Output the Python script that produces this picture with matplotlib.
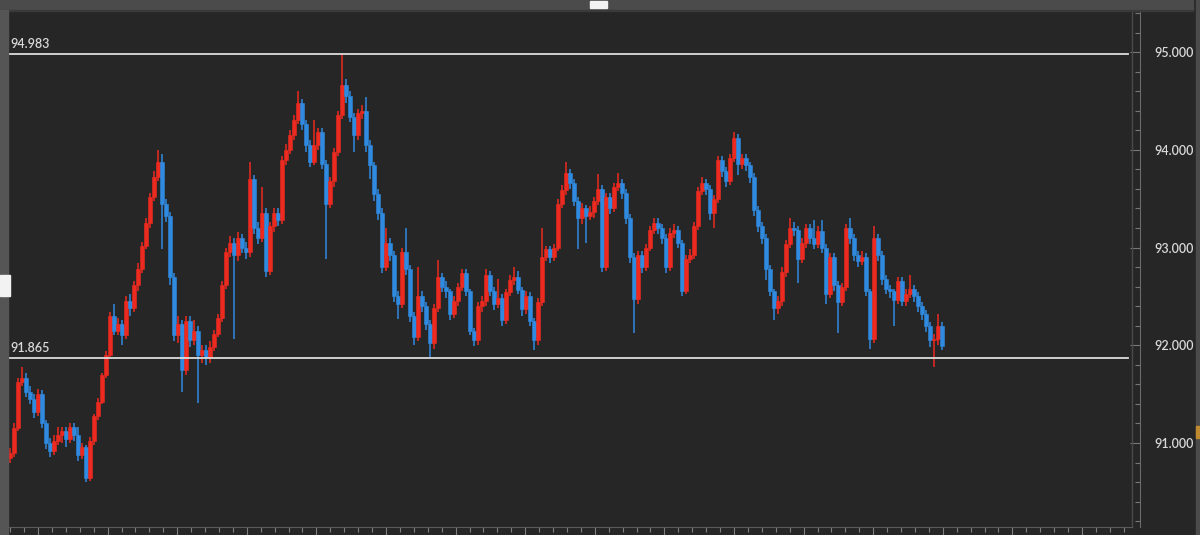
import numpy as np
import matplotlib
matplotlib.use("Agg")
import matplotlib.pyplot as plt
from matplotlib.patches import Rectangle
from matplotlib.lines import Line2D
from matplotlib.ticker import MultipleLocator, FormatStrFormatter

# precios de cierre, maximos y minimos de cada vela
first_open = 90.85
closes = [
    90.90, 91.15, 91.62, 91.66, 91.52, 91.45, 91.32, 91.50, 91.20, 91.00,
    90.92, 91.02, 91.08, 91.12, 91.04, 91.16, 91.08, 90.88, 90.96, 90.64,
    91.02, 91.28, 91.42, 91.70, 91.90, 92.30, 92.15, 92.22, 92.10, 92.45,
    92.38, 92.62, 92.78, 93.02, 93.25, 93.52, 93.72, 93.88, 93.45, 93.32,
    92.70, 92.10, 92.22, 91.75, 92.25, 92.05, 92.15, 91.90, 91.95, 91.88,
    91.98, 92.12, 92.28, 92.62, 92.95, 93.05, 92.92, 93.10, 93.00, 92.95,
    93.70, 93.20, 93.10, 93.35, 92.76, 93.22, 93.35, 93.28, 93.90, 94.00,
    94.15, 94.30, 94.48, 94.26, 94.05, 93.88, 94.05, 94.18, 93.85, 93.45,
    93.68, 93.98, 94.36, 94.66, 94.55, 94.34, 94.15, 94.38, 94.40, 94.05,
    93.84, 93.55, 93.35, 92.80, 93.05, 92.92, 92.50, 92.42, 92.95, 92.78,
    92.30, 92.08, 92.50, 92.40, 92.22, 92.02, 92.38, 92.70, 92.60, 92.55,
    92.32, 92.45, 92.60, 92.74, 92.55, 92.15, 92.05, 92.40, 92.45, 92.72,
    92.55, 92.42, 92.48, 92.26, 92.54, 92.67, 92.70, 92.57, 92.37, 92.50,
    92.25, 92.05, 92.44, 92.90, 92.98, 92.90, 93.00, 93.45, 93.59, 93.76,
    93.66, 93.48, 93.30, 93.40, 93.32, 93.36, 93.48, 93.60, 92.80, 93.52,
    93.40, 93.62, 93.66, 93.56, 93.30, 92.90, 92.47, 92.92, 92.80, 93.00,
    93.18, 93.25, 93.20, 93.10, 92.80, 93.15, 93.18, 93.05, 92.55, 92.88,
    92.92, 93.22, 93.58, 93.66, 93.60, 93.35, 93.50, 93.90, 93.78, 93.68,
    93.92, 94.12, 93.85, 93.92, 93.84, 93.72, 93.38, 93.22, 93.10, 92.78,
    92.55, 92.38, 92.45, 92.75, 93.04, 93.20, 93.18, 92.88, 93.05, 93.20,
    93.10, 93.04, 93.17, 93.00, 92.52, 92.90, 92.62, 92.44, 92.60, 93.20,
    93.10, 92.92, 92.86, 92.90, 92.55, 92.06, 93.10, 92.92, 92.68, 92.58,
    92.55, 92.46, 92.66, 92.45, 92.52, 92.58, 92.50, 92.40, 92.32, 92.20,
    92.05, 92.06, 92.20, 91.99,
]
highs = [
    90.95, 91.20, 91.66, 91.78, 91.72, 91.58, 91.50, 91.55, 91.54, 91.24,
    91.05, 91.08, 91.16, 91.16, 91.16, 91.20, 91.20, 91.16, 91.00, 90.98,
    91.06, 91.30, 91.46, 91.72, 91.94, 92.34, 92.42, 92.28, 92.26, 92.50,
    92.52, 92.66, 92.84, 93.06, 93.30, 93.56, 93.78, 94.00, 93.96, 93.50,
    93.36, 92.74, 92.30, 92.26, 92.30, 92.30, 92.26, 92.20, 92.00, 92.00,
    92.04, 92.16, 92.32, 92.66, 93.00, 93.12, 93.10, 93.16, 93.14, 93.06,
    93.87, 93.74, 93.26, 93.62, 93.40, 93.26, 93.40, 93.40, 93.94, 94.06,
    94.20, 94.36, 94.60, 94.52, 94.30, 94.10, 94.30, 94.22, 94.22, 93.90,
    93.72, 94.02, 94.40, 94.98, 94.72, 94.60, 94.38, 94.42, 94.46, 94.54,
    94.10, 93.88, 93.60, 93.40, 93.20, 93.10, 92.96, 92.56, 93.00, 93.20,
    92.82, 92.34, 92.80, 92.56, 92.44, 92.26, 92.42, 92.87, 92.74, 92.66,
    92.58, 92.50, 92.64, 92.78, 92.78, 92.58, 92.18, 92.44, 92.50, 92.78,
    92.76, 92.60, 92.68, 92.52, 92.58, 92.72, 92.80, 92.76, 92.60, 92.56,
    92.54, 92.28, 92.48, 93.20, 93.02, 93.02, 93.04, 93.50, 93.64, 93.88,
    93.80, 93.70, 93.52, 93.46, 93.44, 93.42, 93.52, 93.75, 93.64, 93.56,
    93.56, 93.66, 93.76, 93.70, 93.60, 93.34, 92.94, 92.96, 92.96, 93.04,
    93.22, 93.30, 93.30, 93.24, 93.14, 93.20, 93.24, 93.22, 93.08, 92.92,
    92.98, 93.26, 93.62, 93.72, 93.70, 93.64, 93.54, 93.94, 93.94, 93.82,
    93.96, 94.18, 94.16, 93.96, 93.96, 93.88, 93.76, 93.42, 93.26, 93.14,
    92.82, 92.58, 92.50, 92.80, 93.08, 93.30, 93.26, 93.22, 93.10, 93.24,
    93.24, 93.28, 93.22, 93.28, 93.04, 92.94, 92.94, 92.66, 92.64, 93.24,
    93.30, 93.14, 92.96, 92.96, 92.94, 92.58, 93.22, 93.14, 92.96, 92.72,
    92.62, 92.58, 92.70, 92.70, 92.58, 92.72, 92.62, 92.54, 92.44, 92.36,
    92.24, 92.12, 92.32, 92.24,
]
lows = [
    90.80, 90.86, 91.12, 91.58, 91.47, 91.40, 91.26, 91.28, 91.15, 90.94,
    90.86, 90.88, 90.98, 91.00, 90.96, 91.00, 91.02, 90.82, 90.84, 90.60,
    90.61, 90.98, 91.24, 91.40, 91.66, 91.88, 92.10, 92.10, 92.00, 92.06,
    92.30, 92.34, 92.56, 92.74, 92.98, 93.20, 93.48, 93.68, 92.98, 93.26,
    92.62, 92.04, 92.02, 91.52, 91.70, 91.98, 92.00, 91.41, 91.82, 91.80,
    91.82, 91.94, 92.08, 92.24, 92.58, 92.90, 92.06, 92.86, 92.94, 92.88,
    92.90, 93.14, 93.04, 93.06, 92.70, 92.72, 93.16, 93.22, 93.24, 93.84,
    93.96, 94.10, 94.26, 94.20, 93.98, 93.82, 93.84, 94.00, 93.80, 92.88,
    93.40, 93.62, 93.94, 94.32, 94.48, 94.28, 93.98, 94.10, 94.32, 93.98,
    93.70, 93.48, 93.28, 92.74, 92.76, 92.86, 92.44, 92.27, 92.38, 92.72,
    92.24, 92.00, 92.04, 92.34, 92.16, 91.88, 91.96, 92.34, 92.54, 92.48,
    92.26, 92.28, 92.40, 92.56, 92.50, 92.10, 91.99, 92.00, 92.34, 92.40,
    92.50, 92.36, 92.38, 92.20, 92.22, 92.50, 92.62, 92.52, 92.30, 92.32,
    92.20, 91.95, 92.00, 92.40, 92.86, 92.84, 92.86, 92.96, 93.40, 93.54,
    93.60, 93.42, 92.98, 93.24, 93.05, 93.28, 93.30, 93.44, 92.75, 92.76,
    93.34, 93.36, 93.58, 93.50, 93.24, 92.84, 92.13, 92.42, 92.74, 92.76,
    92.96, 93.14, 93.14, 93.04, 92.74, 92.76, 93.10, 93.00, 92.50, 92.52,
    92.84, 92.88, 93.18, 93.54, 93.54, 93.28, 93.20, 93.46, 93.72, 93.62,
    93.64, 93.88, 93.74, 93.80, 93.78, 93.66, 93.32, 93.16, 93.04, 92.67,
    92.50, 92.26, 92.32, 92.40, 92.70, 93.00, 93.12, 92.64, 92.84, 93.00,
    93.04, 92.98, 93.00, 92.94, 92.42, 92.48, 92.56, 92.13, 92.40, 92.56,
    93.04, 92.86, 92.80, 92.82, 92.50, 91.96, 92.02, 92.86, 92.62, 92.52,
    92.48, 92.20, 92.42, 92.40, 92.40, 92.48, 92.44, 92.34, 92.26, 92.14,
    91.98, 91.78, 92.00, 91.95,
]

# niveles marcados (maximo y minimo del rango)
levels = [94.983, 91.865]

closes = np.asarray(closes)
opens = np.r_[first_open, closes[:-1]]
highs = np.maximum(np.asarray(highs), np.maximum(opens, closes))
lows = np.minimum(np.asarray(lows), np.minimum(opens, closes))
idx = np.arange(len(closes))

bg = "#262626"
up_col = "#ec2a20"
down_col = "#2f8ae0"
txt_col = "#dadada"

plt.rcParams['font.family'] = ['Lato', 'DejaVu Sans']

W, H = 1200, 535
fig = plt.figure(figsize=(W / 100, H / 100), dpi=100, facecolor=bg)
ax = fig.add_axes([8 / W, 8 / H, 1124 / W, 515 / H])
ax.set_facecolor(bg)

up = closes >= opens
colors = np.where(up, up_col, down_col)

# mechas y cuerpos
ax.vlines(idx, lows, highs, colors=colors, linewidth=1.1, zorder=2)
body_h = np.maximum(np.abs(closes - opens), 0.015)
ax.bar(idx, body_h, bottom=np.minimum(opens, closes), width=0.8,
       color=colors, edgecolor=colors, linewidth=0.4, zorder=3)

# lineas de maximo / minimo
for lv in levels:
    ax.axhline(lv, xmin=0, xmax=1120 / 1124, color="#dcdcdc", linewidth=1.3, zorder=4)
    ax.annotate(f"{lv:.3f}", xy=(0.002, lv), xycoords=("axes fraction", "data"),
                xytext=(0, 3), textcoords="offset points", color=txt_col,
                fontsize=9, fontweight="semibold", ha="left", va="bottom")

ax.set_xlim(-0.5, 280.5)
ax.set_ylim(90.14, 95.41)

# eje de precios a la derecha
ax.yaxis.tick_right()
ax.spines['right'].set_position(('outward', 5.8))
ax.spines['right'].set_color("#6a6a6a")
ax.spines['top'].set_visible(False)
ax.spines['left'].set_visible(False)
ax.spines['bottom'].set_color("#5a5a5a")
ax.yaxis.set_major_locator(MultipleLocator(1.0))
ax.yaxis.set_minor_locator(MultipleLocator(0.2))
ax.yaxis.set_major_formatter(FormatStrFormatter("%.3f"))
ax.tick_params(axis="y", which="major", direction="in", length=7.5, width=0.8,
               color="#777777", labelcolor=txt_col, labelsize=9, pad=10.5)
ax.tick_params(axis="y", which="minor", direction="in", length=3.6, width=0.8,
               color="#777777")
for lab in ax.get_yticklabels():
    lab.set_fontweight("semibold")

# eje de tiempo sin etiquetas
ax.xaxis.set_major_locator(MultipleLocator(17.4, offset=7))
ax.xaxis.set_minor_locator(MultipleLocator(3.48, offset=7))
ax.tick_params(axis="x", which="major", direction="out", length=6, width=0.8,
               color="#808080", labelbottom=False)
ax.tick_params(axis="x", which="minor", direction="out", length=3.5, width=0.8,
               color="#808080")

# borde derecho del area del grafico
ax.add_line(Line2D([1, 1], [0, 1], transform=ax.transAxes, color="#4a4a4a",
                   linewidth=1.0, clip_on=False))

# barras de la ventana
fig.patches.append(Rectangle((0, 1 - 10 / H), 1193 / W, 10 / H, transform=fig.transFigure,
                             color="#4b4b4b", zorder=0))
fig.patches.append(Rectangle((0, 1 - 11 / H), 1193 / W, 1 / H, transform=fig.transFigure,
                             color="#3a3a3a", zorder=0))
fig.patches.append(Rectangle((590 / W, 1 - 8 / H), 17 / W, 7 / H, transform=fig.transFigure,
                             color="#f2f2f2", zorder=1))
fig.patches.append(Rectangle((0, 0), 8 / W, 1 - 10 / H, transform=fig.transFigure,
                             color="#555555", zorder=0))
fig.patches.append(Rectangle((0, 1 - 296 / H), 10 / W, 21 / H, transform=fig.transFigure,
                             color="#f2f2f2", zorder=1))
fig.patches.append(Rectangle((1196 / W, 0), 4 / W, 1, transform=fig.transFigure,
                             color="#4b4b4b", zorder=0))
fig.patches.append(Rectangle((1196 / W, 1 - 438 / H), 4 / W, 12 / H, transform=fig.transFigure,
                             color="#c08a30", zorder=1))

fig.savefig("out.png", dpi=100, facecolor=bg)
